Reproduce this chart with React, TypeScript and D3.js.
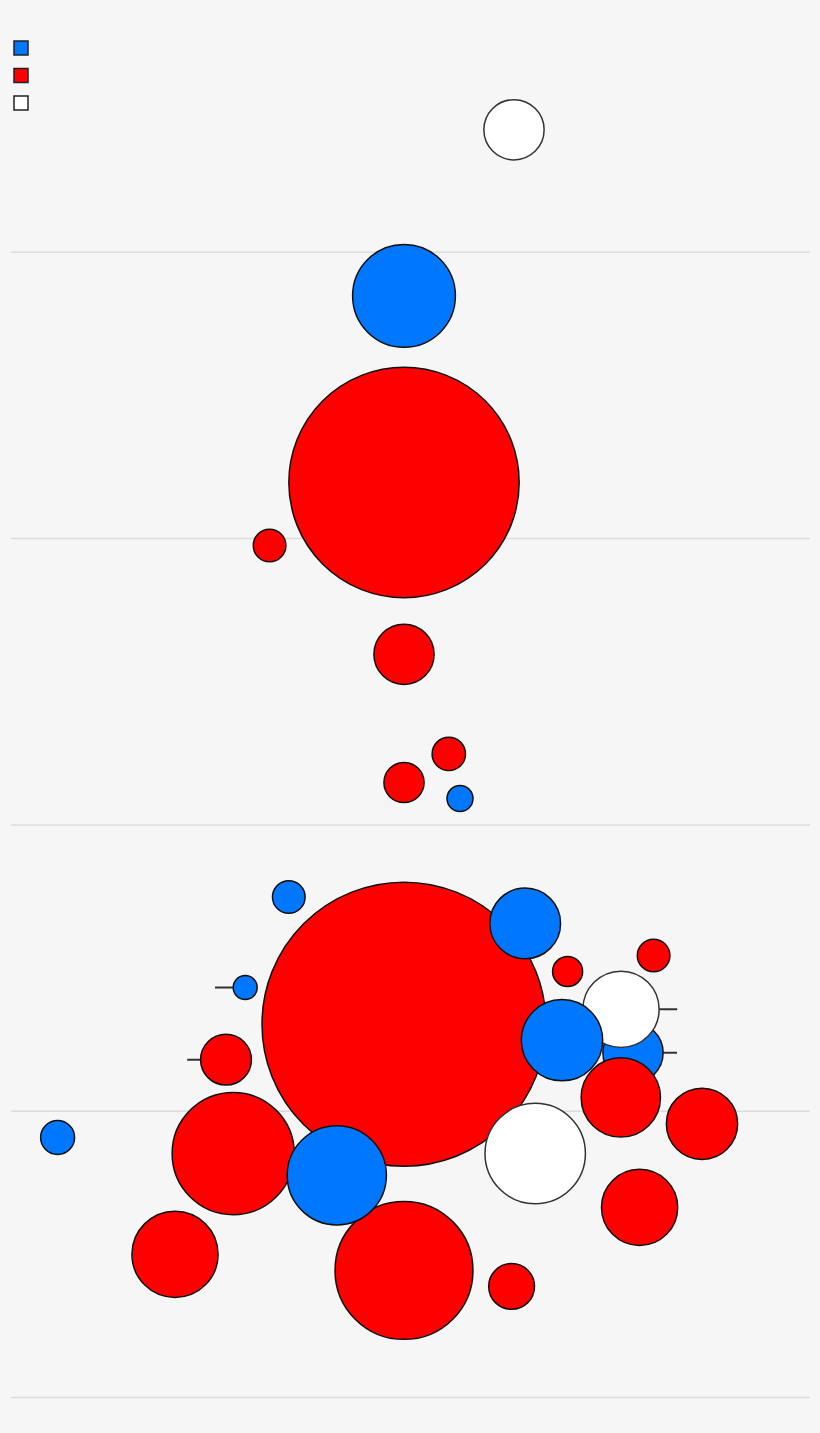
import React, { useEffect } from "react";
import * as d3 from "d3";

// party of each bubble: d = blue, r = red, i = white
const parties = ["d", "r", "i"];
const partyColors = ["#0077ff", "#ff0000", "#ffffff"];

// gridline values on the vertical axis
const yTicks = [0, 25, 50, 75, 100];

// one entry per bubble, in drawing order (later ones sit on top)
const nodeParty = [
  "i", "d", "r", "r", "r", "r", "r", "d",
  "d", "r", "d", "r", "r", "d", "r", "d",
  "i", "d", "r", "r", "i", "r", "r", "d",
  "r", "r", "d", "r",
];
const nodeValue = [
  110.7, 96.2, 79.9, 74.4, 64.9, 56.2, 53.7, 52.3,
  43.7, 32.6, 41.4, 37.2, 38.6, 35.8, 29.5, 30.1,
  33.9, 31.2, 26.2, 23.9, 21.3, 16.6, 9.7, 22.7,
  21.3, 11.1, 19.4, 12.5,
];
const nodeOffset = [
  27.5, 0, 0, -33.6, 0, 11.2, 0, 14,
  -28.8, 0, 30.3, 40.9, 62.4, -39.7, -44.5, 57.25,
  54.25, 39.5, 54.2, 74.5, 32.8, 58.9, 26.9, -86.6,
  -42.7, 0, -16.8, -57.25,
];
const nodeSize = [
  4.5, 13.1, 65.8, 1.32, 4.5, 1.38, 2.0, 0.84,
  1.32, 100, 6.2, 1.12, 1.32, 0.71, 3.2, 4.5,
  7.2, 8.2, 7.8, 6.3, 12.5, 7.2, 2.6, 1.43,
  18.5, 23.6, 12.2, 9.2,
];
// where a displaced bubble really sits (null = no leader line)
const nodeAnchor: (number | null)[] = [
  null, null, null, null, null, null, null, null,
  null, null, null, null, null, -47.25, -54.2, 68.25,
  68.3, null, null, null, null, null, null, null,
  null, null, null, null,
];

const width = 820;
const height = 1433;

export default function App() {
  useEffect(() => {
    document.body.style.margin = "0";
  }, []);

  const y = d3.scaleLinear().domain([0, 100]).range([1397.5, 252.3]);
  const x = d3.scaleLinear().domain([-100, 100]).range([4, 804]);
  const r = d3.scaleSqrt().domain([0, 100]).range([0, 142]);
  const color = d3.scaleOrdinal<string, string>().domain(parties).range(partyColors);

  const nodes = nodeParty.map((p, i) => ({
    party: p,
    value: nodeValue[i],
    offset: nodeOffset[i],
    size: nodeSize[i],
    anchor: nodeAnchor[i],
  }));

  return (
    <svg width={width} height={height} style={{ display: "block" }}>
      <rect width={width} height={height} fill="#f6f6f6" />
      <g>
        {yTicks.map((t) => (
          <line
            key={t}
            x1={11}
            x2={810}
            y1={y(t)}
            y2={y(t)}
            stroke="#dcdcdc"
            strokeWidth={1.5}
          />
        ))}
      </g>
      <g>
        {nodes
          .filter((d) => d.anchor !== null)
          .map((d, i) => (
            <line
              key={i}
              x1={x(d.anchor as number)}
              x2={x(d.offset)}
              y1={y(d.value)}
              y2={y(d.value)}
              stroke="#333"
              strokeWidth={2}
            />
          ))}
      </g>
      <g>
        {nodes.map((d, i) => (
          <circle
            key={i}
            cx={x(d.offset)}
            cy={y(d.value)}
            r={r(d.size)}
            fill={color(d.party)}
            stroke={d.party === "i" ? "#333" : "#111"}
            strokeWidth={1.5}
          />
        ))}
      </g>
      <g>
        {parties.map((p, i) => (
          <rect
            key={p}
            x={14}
            y={41 + i * 27.5}
            width={14}
            height={14}
            fill={color(p)}
            stroke="#222"
            strokeWidth={1.5}
          />
        ))}
      </g>
    </svg>
  );
}
